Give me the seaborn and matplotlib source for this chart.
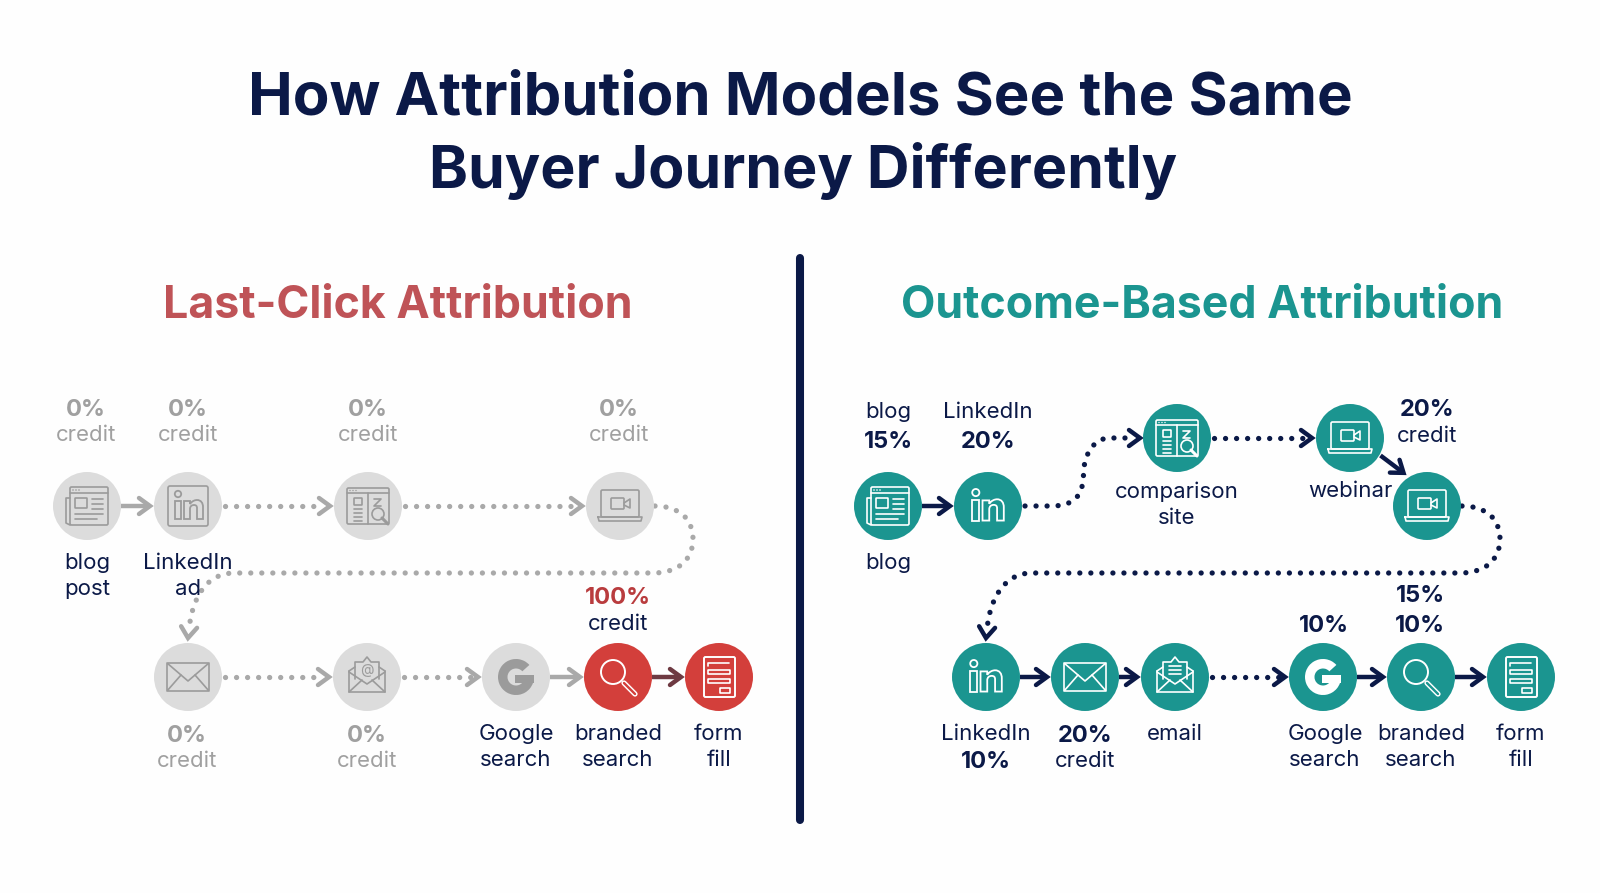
import numpy as np
import pandas as pd
import matplotlib
matplotlib.use('Agg')
import matplotlib.pyplot as plt
from matplotlib.patches import Circle, FancyBboxPatch, PathPatch, Rectangle, Wedge
from matplotlib.path import Path
import seaborn as sns

sns.set_theme(style='white')
plt.rcParams['font.family'] = ['Inter', 'DejaVu Sans']

NAVY = '#0b1947'
TEAL = '#1b9590'
RED = '#d33f3b'
GREY = '#dcdcdc'
MUTED = '#a9a9a9'
ICON_GREY = '#9b9b9b'
SOFT_TEXT = '#a0a0a0'
R = 34

# Left panel: last-click model
left_icons = ['news', 'linkedin', 'compare', 'laptop', 'mail', 'mail_at', 'google', 'search', 'form']
left_state = ['off', 'off', 'off', 'off', 'off', 'off', 'off', 'hot', 'hot']
left_x = [87, 188, 368, 620, 188, 367, 516, 618, 719]
left_y = [506, 506, 506, 506, 677, 677, 677, 677, 677]
left_links = [(0, 1, 'solid'), (1, 2, 'dots'), (2, 3, 'dots'), (3, 4, 'wrap'),
              (4, 5, 'dots'), (5, 6, 'dots'), (6, 7, 'solid'), (7, 8, 'dark')]

left_pct = ['0%', '0%', '0%', '0%', '0%', '0%']
left_pct_x = [86, 188, 368, 619, 187, 367]
left_pct_y = [407, 407, 407, 407, 733, 733]
left_names = ['blog', 'post', 'LinkedIn', 'ad', 'Google', 'search', 'branded', 'search', 'form', 'fill']
left_names_x = [87, 87, 188, 188, 516, 516, 618, 618, 719, 719]
left_names_y = [561, 587, 561, 587, 732, 758, 732, 758, 732, 758]

# Right panel: outcome-based model
right_icons = ['news', 'linkedin_bare', 'compare', 'laptop', 'laptop', 'linkedin_bare', 'mail', 'mail_lines',
               'google', 'search', 'form']
right_x = [888, 988, 1177, 1350, 1427, 986, 1085, 1175, 1323, 1421, 1521]
right_y = [506, 506, 438, 438, 506, 677, 677, 677, 677, 677, 677]
right_links = [(0, 1, 'solid'), (1, 2, 'scurve'), (2, 3, 'dots'), (3, 4, 'diag'), (4, 5, 'wrap'),
               (5, 6, 'solid'), (6, 7, 'solid'), (7, 8, 'dots'), (8, 9, 'solid'), (9, 10, 'solid')]

right_pct = ['15%', '20%', '20%', '15%', '10%', '10%', '10%', '20%']
right_pct_x = [888, 988, 1427, 1420, 1420, 1324, 986, 1085]
right_pct_y = [439, 439, 408, 594, 623, 623, 760, 733]
right_names = ['blog', 'LinkedIn', 'blog', 'comparison', 'site', 'webinar', 'credit', 'LinkedIn', 'credit', 'email',
               'Google', 'search', 'branded', 'search', 'form', 'fill']
right_names_x = [888, 988, 888, 1177, 1177, 1350, 1427, 986, 1085, 1175, 1325, 1325, 1421, 1421, 1521, 1521]
right_names_y = [410, 410, 561, 490, 516, 489, 434, 732, 759, 732, 732, 758, 732, 758, 732, 758]


def stroke(ax, xs, ys, color, lw=1.2):
    ax.plot(xs, ys, color=color, lw=lw, solid_capstyle='round', solid_joinstyle='round', zorder=6)


def box(ax, x0, y0, x1, y1, color, lw=1.2, pad=1.5):
    ax.add_patch(FancyBboxPatch((x0, y0), x1 - x0, y1 - y0, boxstyle='round,pad=0,rounding_size=%g' % pad,
                                fill=False, ec=color, lw=lw, zorder=6))


def rows(ax, cx, cy, x0, x1, offsets, color, lw=1.2):
    for off in offsets:
        stroke(ax, [cx + x0, cx + x1], [cy + off, cy + off], color, lw)


def icon_news(ax, cx, cy, c):
    box(ax, cx - 17, cy - 19, cx + 21, cy + 19, c)
    stroke(ax, [cx - 17, cx - 21, cx - 21, cx - 17], [cy - 8, cy - 8, cy + 17, cy + 19], c)
    rows(ax, cx, cy, -17, 21, [-13], c)
    for dx in [-14, -11, -8]:
        ax.add_patch(Circle((cx + dx, cy - 16), 0.8, fc=c, ec='none', zorder=6))
    box(ax, cx - 12, cy - 8, cx, cy + 2, c, pad=0.5)
    rows(ax, cx, cy, 5, 16, [-7, -2, 3], c)
    rows(ax, cx, cy, -12, 16, [8], c)
    rows(ax, cx, cy, -12, 10, [13], c)


def in_letters(ax, cx, cy, c, k=1.0):
    ax.add_patch(Circle((cx - 10 * k, cy - 12 * k), 3.2 * k, fill=False, ec=c, lw=1.3, zorder=6))
    ax.add_patch(Rectangle((cx - 13 * k, cy - 5 * k), 6 * k, 18 * k, fill=False, ec=c, lw=1.3, zorder=6))
    verts = [(-4, -5), (2, -5), (2, -2), (4, -5), (7, -6), (9, -6), (13, -6), (15, -3), (15, 1), (15, 13), (9, 13),
             (9, 2), (9, 0), (8, -1), (6, -1), (4, -1), (2, 0), (2, 3), (2, 13), (-4, 13), (-4, -5)]
    codes = [Path.MOVETO, Path.LINETO, Path.LINETO, Path.CURVE4, Path.CURVE4, Path.CURVE4, Path.CURVE4, Path.CURVE4,
             Path.CURVE4, Path.LINETO, Path.LINETO, Path.LINETO, Path.CURVE4, Path.CURVE4, Path.CURVE4, Path.CURVE4,
             Path.CURVE4, Path.CURVE4, Path.LINETO, Path.LINETO, Path.CLOSEPOLY]
    pts = [(cx + vx * k, cy + vy * k) for vx, vy in verts]
    ax.add_patch(PathPatch(Path(pts, codes), fill=False, ec=c, lw=1.3, zorder=6))


def icon_linkedin(ax, cx, cy, c):
    box(ax, cx - 20, cy - 20, cx + 20, cy + 20, c, pad=2)
    in_letters(ax, cx, cy, c, 1.0)


def icon_linkedin_bare(ax, cx, cy, c):
    in_letters(ax, cx - 1, cy, c, 1.12)


def icon_compare(ax, cx, cy, c):
    box(ax, cx - 21, cy - 18, cx + 21, cy + 18, c)
    rows(ax, cx, cy, -21, 21, [-13], c)
    for dx in [-18, -15, -12]:
        ax.add_patch(Circle((cx + dx, cy - 15.5), 0.7, fc=c, ec='none', zorder=6))
    stroke(ax, [cx, cx], [cy - 13, cy + 18], c)
    box(ax, cx - 14, cy - 8, cx - 6, cy - 1, c, pad=0.5)
    rows(ax, cx, cy, -14, -6, [3, 7, 11, 15], c)
    stroke(ax, [cx + 6, cx + 13, cx + 6, cx + 13], [cy - 7, cy - 7, cy, cy], c)
    ax.add_patch(Circle((cx + 10, cy + 8), 6, fc='none', ec=c, lw=1.2, zorder=7))
    stroke(ax, [cx + 14, cx + 20], [cy + 12, cy + 18], c, 2.2)


def icon_laptop(ax, cx, cy, c):
    box(ax, cx - 19, cy - 16, cx + 19, cy + 11, c, pad=1.5)
    stroke(ax, [cx - 22, cx + 22, cx + 21, cx - 21, cx - 22], [cy + 11, cy + 11, cy + 15, cy + 15, cy + 11], c)
    box(ax, cx - 9, cy - 8, cx + 4, cy + 3, c, pad=1)
    stroke(ax, [cx + 4, cx + 10, cx + 10, cx + 4], [cy - 3, cy - 7, cy + 2, cy - 1], c)


def icon_mail(ax, cx, cy, c):
    box(ax, cx - 21, cy - 14, cx + 21, cy + 14, c)
    stroke(ax, [cx - 21, cx, cx + 21], [cy - 14, cy + 4, cy - 14], c)
    stroke(ax, [cx - 21, cx - 7], [cy + 14, cy - 2], c)
    stroke(ax, [cx + 21, cx + 7], [cy + 14, cy - 2], c)


def open_mail(ax, cx, cy, c):
    stroke(ax, [cx - 18, cx - 18, cx + 18, cx + 18], [cy - 6, cy + 15, cy + 15, cy - 6], c)
    stroke(ax, [cx - 18, cx - 12], [cy - 6, cy - 10], c)
    stroke(ax, [cx + 18, cx + 12], [cy - 6, cy - 10], c)
    stroke(ax, [cx - 12, cx - 12, cx - 4, cx, cx + 4, cx + 12, cx + 12],
           [cy + 2, cy - 15, cy - 15, cy - 20, cy - 15, cy - 15, cy + 2], c)
    stroke(ax, [cx - 18, cx, cx + 18], [cy - 5, cy + 7, cy - 5], c)
    stroke(ax, [cx - 18, cx - 5], [cy + 15, cy + 3], c)
    stroke(ax, [cx + 18, cx + 5], [cy + 15, cy + 3], c)


def icon_mail_at(ax, cx, cy, c):
    open_mail(ax, cx, cy, c)
    ax.text(cx, cy - 7, '@', color=c, fontsize=10, ha='center', va='center', zorder=6)


def icon_mail_lines(ax, cx, cy, c):
    open_mail(ax, cx, cy, c)
    rows(ax, cx, cy, -6, 6, [-11, -7, -3], c)


def icon_google(ax, cx, cy, c):
    ax.add_patch(Wedge((cx, cy), 18, 0, 318, width=9.5, fc=c, ec='none', zorder=6))
    ax.add_patch(Rectangle((cx - 1, cy - 2), 19, 8, fc=c, ec='none', zorder=6))


def icon_search(ax, cx, cy, c, bg):
    ax.add_patch(Circle((cx - 5, cy - 5), 12, fill=False, ec=c, lw=1.4, zorder=6))
    stroke(ax, [cx + 6, cx + 17], [cy + 6, cy + 17], c, 3.8)
    stroke(ax, [cx + 6, cx + 17], [cy + 6, cy + 17], bg, 1.7)


def icon_form(ax, cx, cy, c):
    box(ax, cx - 15, cy - 20, cx + 16, cy + 20, c, lw=1.4)
    stroke(ax, [cx - 11, cx - 11, cx + 10], [cy - 11, cy - 14, cy - 14], c)
    box(ax, cx - 11, cy - 7, cx + 11, cy - 3, c, pad=0.3)
    box(ax, cx - 11, cy + 2, cx + 11, cy + 6, c, pad=0.3)
    box(ax, cx + 1, cy + 11, cx + 11, cy + 16, c, pad=0.3)


def draw_icon(ax, name, cx, cy, c, bg):
    if name == 'search':
        icon_search(ax, cx, cy, c, bg)
    else:
        globals()['icon_' + name](ax, cx, cy, c)


def chevron(ax, tip, prev, color, lw):
    d = np.array(tip, float) - np.array(prev, float)
    d = d / np.hypot(*d)
    n = np.array([-d[1], d[0]])
    a = np.array(tip) - d * 11 + n * 8
    b = np.array(tip) - d * 11 - n * 8
    ax.plot([a[0], tip[0], b[0]], [a[1], tip[1], b[1]], color=color, lw=lw, solid_capstyle='round',
            solid_joinstyle='miter', zorder=4)


def dotted(ax, verts, codes, color):
    ax.add_patch(PathPatch(Path(verts, codes), fill=False, ec=color, lw=3.8, capstyle='round',
                           linestyle=(0, (0.01, 2.08)), zorder=3))


def draw_link(ax, p, q, kind, color, dark=None):
    p = np.array(p, float)
    q = np.array(q, float)
    d = (q - p) / np.hypot(*(q - p))
    if kind in ('solid', 'dark', 'diag'):
        c = dark if kind == 'dark' else color
        start = p + d * R
        tip = q - d * (R + 4)
        if kind == 'diag':
            # this one sits off the straight line between the two circles
            start = start + np.array([5, -5])
            tip = tip + np.array([5, -8])
        ax.plot([start[0], tip[0]], [start[1], tip[1]], color=c, lw=3.2, solid_capstyle='butt', zorder=4)
        chevron(ax, tip, start, c, 3.2)
    elif kind == 'dots':
        start = p + d * (R + 3)
        tip = q - d * (R + 4)
        dotted(ax, [start, tip - d * 6], [Path.MOVETO, Path.LINETO], color)
        chevron(ax, tip, start, color, 3.2)
    elif kind == 'scurve':
        x0 = p[0] + R + 3
        tip = (q[0] - R - 3, q[1])
        mx = (x0 + tip[0]) / 2 + 1
        verts = [(x0, p[1]), (x0 + 26, p[1]), (mx - 4, p[1]), (mx, p[1] - 16), (mx, p[1] - 34),
                 (mx + 1, q[1] + 14), (mx + 12, q[1]), (mx + 26, q[1]), (tip[0] - 5, q[1])]
        codes = [Path.MOVETO, Path.LINETO, Path.CURVE4, Path.CURVE4, Path.CURVE4,
                 Path.CURVE4, Path.CURVE4, Path.CURVE4, Path.LINETO]
        dotted(ax, verts, codes, color)
        chevron(ax, tip, (tip[0] - 10, tip[1]), color, 3.2)
    elif kind == 'wrap':
        x0 = p[0] + R + 1
        xr = x0 + 38
        lane = 573
        tip = (q[0], q[1] - R - 5)
        verts = [(x0, p[1]), (x0 + 24, p[1]), (xr, p[1] + 13), (xr, p[1] + 33), (xr, lane - 14), (x0 + 24, lane),
                 (x0 - 2, lane), (q[0] + 46, lane), (q[0] + 16, lane), (q[0] + 3, lane + 30), (tip[0] + 1, tip[1] - 8)]
        codes = [Path.MOVETO, Path.CURVE4, Path.CURVE4, Path.CURVE4, Path.CURVE4, Path.CURVE4, Path.CURVE4,
                 Path.LINETO, Path.CURVE4, Path.CURVE4, Path.CURVE4]
        dotted(ax, verts, codes, color)
        chevron(ax, tip, (tip[0] + 1, tip[1] - 10), color, 3.2)


def draw_panel(ax, xs, ys, states, icons, links, link_color, dark=None):
    nodes = pd.DataFrame({'x': xs, 'y': ys, 'state': states})
    sns.scatterplot(data=nodes, x='x', y='y', hue='state', palette={'off': GREY, 'hot': RED, 'on': TEAL},
                    s=(2 * R * 0.72) ** 2, linewidth=0, legend=False, zorder=5, ax=ax)
    for name, x, y, state in zip(icons, xs, ys, states):
        bg = {'off': GREY, 'hot': RED, 'on': TEAL}[state]
        draw_icon(ax, name, x, y, ICON_GREY if state == 'off' else 'white', bg)
    for a, b, kind in links:
        draw_link(ax, (xs[a], ys[a]), (xs[b], ys[b]), kind, link_color, dark)


def put_text(ax, items, xs, ys, color, size, weight='normal'):
    for t, x, y in zip(items, xs, ys):
        ax.text(x, y, t, color=color, fontsize=size, fontweight=weight, ha='center', va='center_baseline', zorder=8)


fig = plt.figure(figsize=(16, 8.93), dpi=100, facecolor='#fefefe')
ax = fig.add_axes([0, 0, 1, 1])
ax.set_facecolor('#fefefe')

draw_panel(ax, left_x, left_y, left_state, left_icons, left_links, MUTED, dark='#6e3a42')
draw_panel(ax, right_x, right_y, ['on'] * len(right_x), right_icons, right_links, NAVY)

ax.set_xlim(0, 1600)
ax.set_ylim(893, 0)
ax.set_xlabel('')
ax.set_ylabel('')
ax.axis('off')

ax.text(800, 93, 'How Attribution Models See the Same', color=NAVY, fontsize=43.1, fontweight='bold',
        ha='center', va='center_baseline')
ax.text(803, 165, 'Buyer Journey Differently', color=NAVY, fontsize=42.5, fontweight='bold',
        ha='center', va='center_baseline')
ax.text(398, 301, 'Last-Click Attribution', color='#bf5357', fontsize=32.2, fontweight='bold',
        ha='center', va='center_baseline')
ax.text(1202, 301, 'Outcome-Based Attribution', color=TEAL, fontsize=32.2, fontweight='bold',
        ha='center', va='center_baseline')
ax.plot([800, 800], [258, 820], color=NAVY, lw=5.8, solid_capstyle='round')

put_text(ax, left_pct, left_pct_x, left_pct_y, SOFT_TEXT, 17, 'bold')
put_text(ax, ['credit'] * len(left_pct), left_pct_x, [y + 26 for y in left_pct_y], SOFT_TEXT, 16)
put_text(ax, left_names, left_names_x, left_names_y, NAVY, 16)
put_text(ax, ['100%'], [618], [595], '#b93c3e', 17, 'bold')
put_text(ax, ['credit'], [618], [622], NAVY, 16)

put_text(ax, right_pct, right_pct_x, right_pct_y, NAVY, 17, 'bold')
put_text(ax, right_names, right_names_x, right_names_y, NAVY, 16)

fig.savefig('out.png', dpi=100, facecolor=fig.get_facecolor())
